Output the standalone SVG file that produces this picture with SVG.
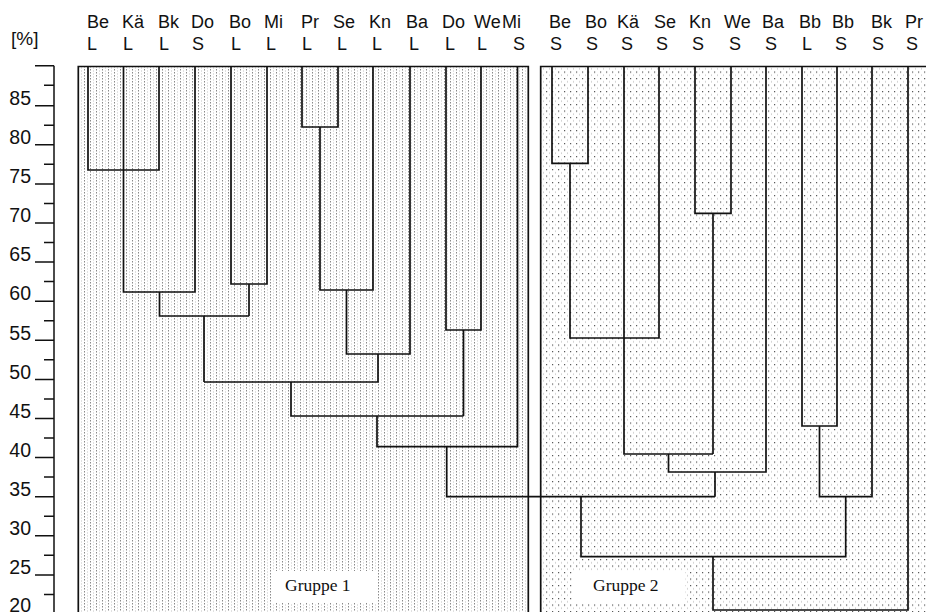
<svg xmlns="http://www.w3.org/2000/svg" width="926" height="612" viewBox="0 0 926 612">
<defs>
<pattern id="p1" width="6" height="3" patternUnits="userSpaceOnUse">
<rect x="0" y="0" width="1" height="1.5" fill="#8a8a8a"/>
<rect x="3" y="1.5" width="1" height="1" fill="#c4c4c4"/>
</pattern>
<pattern id="p2" width="6" height="6.5" patternUnits="userSpaceOnUse">
<rect x="0" y="0" width="1.2" height="1.2" fill="#555"/>
<rect x="3" y="3.25" width="1" height="1" fill="#b0b0b0"/>
</pattern>
<style>
.ln{fill:none;stroke:#111;stroke-width:1.7}
.ax{fill:none;stroke:#111;stroke-width:1.5}
.lab{font-family:"Liberation Sans",Arial,sans-serif;font-size:18px;fill:#111}
.num{font-family:"Liberation Sans",Arial,sans-serif;font-size:19.5px;fill:#111;text-anchor:end}
.grp{font-family:"Liberation Serif","Times New Roman",serif;font-size:17.5px;fill:#111}
</style>
</defs>
<rect width="926" height="612" fill="#fff"/>
<g id="background">
<rect x="78.3" y="66.5" width="450" height="546" fill="url(#p1)"/>
<rect x="540.7" y="66.5" width="386" height="546" fill="url(#p2)"/>
<rect x="272" y="571" width="105" height="32" fill="#fff"/>
<rect x="573" y="571" width="112" height="32" fill="#fff"/>
</g>
<g id="axis">
<text class="lab" x="11" y="45" style="font-size:19px">[%]</text>
<path class="ax" d="M54,65.7V612M35,65.7H54M44,85.2H54M35,105.7H54M44,125.2H54M35,144.8H54M44,164.3H54M35,183.9H54M44,203.4H54M35,223H54M44,242.5H54M35,262.1H54M44,281.6H54M35,301.2H54M44,320.7H54M35,340.3H54M44,359.8H54M35,379.4H54M44,398.9H54M35,418.5H54M44,438H54M35,457.6H54M44,477.1H54M35,496.7H54M44,516.2H54M35,535.8H54M44,555.3H54M35,574.9H54M44,594.4H54"/>
<text class="num" x="31" y="105">85</text>
<text class="num" x="31" y="144">80</text>
<text class="num" x="31" y="183">75</text>
<text class="num" x="31" y="222">70</text>
<text class="num" x="31" y="261">65</text>
<text class="num" x="31" y="300">60</text>
<text class="num" x="31" y="340">55</text>
<text class="num" x="31" y="379">50</text>
<text class="num" x="31" y="418">45</text>
<text class="num" x="31" y="457">40</text>
<text class="num" x="31" y="496">35</text>
<text class="num" x="31" y="535">30</text>
<text class="num" x="31" y="574">25</text>
<text class="num" x="31" y="612">20</text>
</g>
<g id="frames">
<path class="ln" d="M78.3,614V66.5H528.3V614M540.7,614V66.5H926"/>
</g>
<g id="group1-label"><text class="grp" x="285" y="591">Gruppe 1</text></g>
<g id="group2-label"><text class="grp" x="593" y="591">Gruppe 2</text></g>
<g id="leaf-g1-BeL"><text class="lab" x="87" y="28">Be</text><text class="lab" x="87" y="50">L</text></g>
<g id="leaf-g1-KaL"><text class="lab" x="122" y="28">Kä</text><text class="lab" x="123" y="50">L</text></g>
<g id="leaf-g1-BkL"><text class="lab" x="158" y="28">Bk</text><text class="lab" x="159" y="50">L</text></g>
<g id="leaf-g1-DoS"><text class="lab" x="191" y="28">Do</text><text class="lab" x="192" y="50">S</text></g>
<g id="leaf-g1-BoL"><text class="lab" x="229" y="28">Bo</text><text class="lab" x="231" y="50">L</text></g>
<g id="leaf-g1-MiL"><text class="lab" x="264" y="28">Mi</text><text class="lab" x="266" y="50">L</text></g>
<g id="leaf-g1-PrL"><text class="lab" x="301" y="28">Pr</text><text class="lab" x="302" y="50">L</text></g>
<g id="leaf-g1-SeL"><text class="lab" x="333" y="28">Se</text><text class="lab" x="337" y="50">L</text></g>
<g id="leaf-g1-KnL"><text class="lab" x="369" y="28">Kn</text><text class="lab" x="372" y="50">L</text></g>
<g id="leaf-g1-BaL"><text class="lab" x="406" y="28">Ba</text><text class="lab" x="409" y="50">L</text></g>
<g id="leaf-g1-DoL"><text class="lab" x="442" y="28">Do</text><text class="lab" x="445" y="50">L</text></g>
<g id="leaf-g1-WeL"><text class="lab" x="474" y="28">We</text><text class="lab" x="477" y="50">L</text></g>
<g id="leaf-g1-MiS"><text class="lab" x="502" y="28">Mi</text><text class="lab" x="513" y="50">S</text></g>
<g id="leaf-g2-BeS"><text class="lab" x="549" y="28">Be</text><text class="lab" x="550" y="50">S</text></g>
<g id="leaf-g2-BoS"><text class="lab" x="585" y="28">Bo</text><text class="lab" x="586" y="50">S</text></g>
<g id="leaf-g2-KaS"><text class="lab" x="617" y="28">Kä</text><text class="lab" x="621" y="50">S</text></g>
<g id="leaf-g2-SeS"><text class="lab" x="654" y="28">Se</text><text class="lab" x="656" y="50">S</text></g>
<g id="leaf-g2-KnS"><text class="lab" x="689" y="28">Kn</text><text class="lab" x="692" y="50">S</text></g>
<g id="leaf-g2-WeS"><text class="lab" x="724" y="28">We</text><text class="lab" x="729" y="50">S</text></g>
<g id="leaf-g2-BaS"><text class="lab" x="762" y="28">Ba</text><text class="lab" x="765" y="50">S</text></g>
<g id="leaf-g2-BbL"><text class="lab" x="799" y="28">Bb</text><text class="lab" x="802" y="50">L</text></g>
<g id="leaf-g2-BbS"><text class="lab" x="832" y="28">Bb</text><text class="lab" x="835" y="50">S</text></g>
<g id="leaf-g2-BkS"><text class="lab" x="871" y="28">Bk</text><text class="lab" x="872" y="50">S</text></g>
<g id="leaf-g2-PrS"><text class="lab" x="905" y="28">Pr</text><text class="lab" x="906" y="50">S</text></g>
<g id="connectors">
<path class="ln" d="M88,66.5V170H159V66.5M123.5,66.5V292H195V66.5M159.5,292V316H249M231,66.5V284H267V66.5M249,284V316M204,316V382"/>
<path class="ln" d="M302,66.5V127H338V66.5M320,127V290H373V66.5M346.5,290V354H410V66.5M378,354V382H204M291,382V416H463.5M446,66.5V330H481V66.5M463.5,330V416M377,416V446.7H517.5V66.5M446.7,446.7V496.7H715"/>
<path class="ln" d="M552,66.5V163.3H588V66.5M570,163.3V338H659V66.5M624,66.5V454H713M695,66.5V213.3H731V66.5M713,213.3V454M668.5,454V472H766V66.5M715,472V496.7"/>
<path class="ln" d="M802,66.5V426H837V66.5M819.5,426V496.7H872V66.5M845.7,496.7V556.7H581V496.7M713,556.7V610H908V66.5"/>
</g>
</svg>
